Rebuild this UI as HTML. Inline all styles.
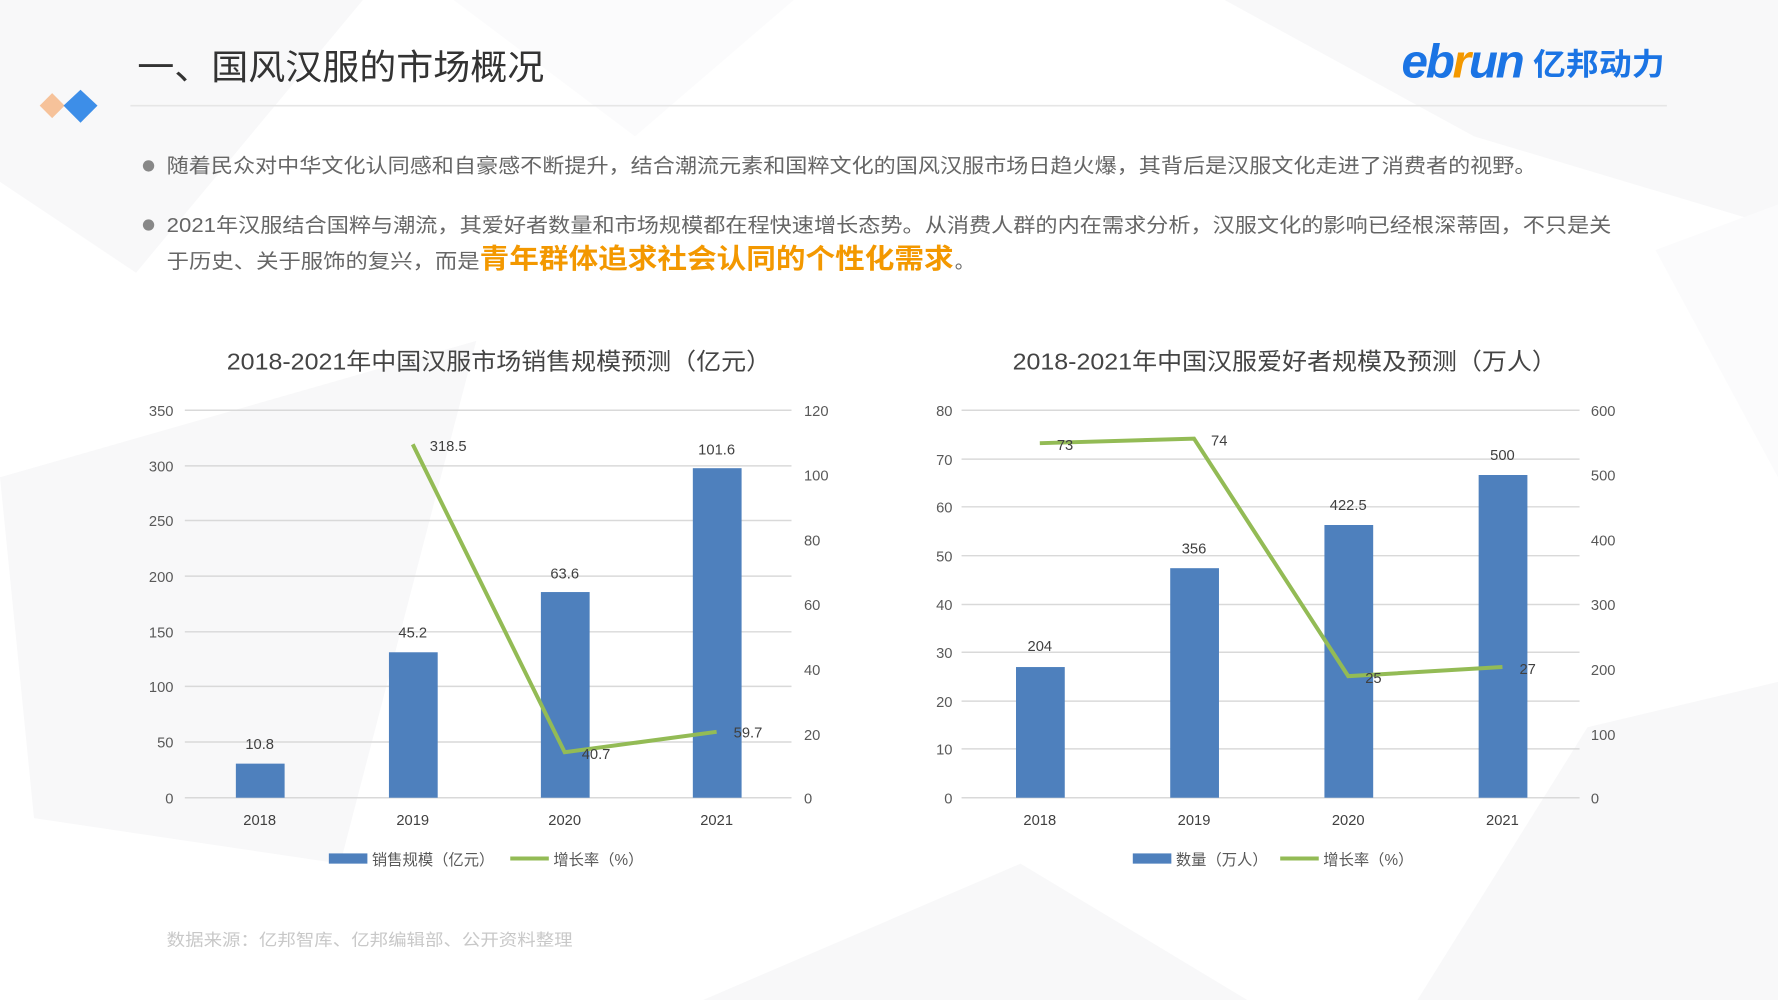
<!DOCTYPE html>
<html><head><meta charset="utf-8"><style>
html,body{margin:0;padding:0;background:#fff;}
svg{display:block;}
text{font-family:"Liberation Sans","Noto Sans CJK SC",sans-serif;}
</style></head><body>
<svg width="1778" height="1000" viewBox="0 0 1568 880" preserveAspectRatio="none" xmlns="http://www.w3.org/2000/svg">
<rect width="1568" height="880" fill="#fff"/>
<g fill="#f8f8f9">
<polygon points="0,0 320,0 120,240 0,160"/>
<polygon points="1080,0 1568,0 1568,200 1300,120"/>
<polygon points="0,420 420,300 300,760 30,720"/>
<polygon points="1400,640 1568,600 1568,880 1250,880"/>
<polygon points="620,880 900,760 1100,880"/>
</g>
<g fill="#fbfbfc">
<polygon points="400,0 700,0 560,120"/>
<polygon points="1460,220 1568,180 1568,420"/>
</g>
<!-- header -->
<text x="121" y="70" font-size="31" fill="#333" textLength="359" lengthAdjust="spacingAndGlyphs">一、国风汉服的市场概况</text>
<line x1="115" y1="93" x2="1470" y2="93" stroke="#e6e6e6" stroke-width="1.5"/>
<polygon points="46,82 57,93 46,104 35,93" fill="#f6c29a"/>
<polygon points="71,79 86,93 71,108 56,93" fill="#3d8ee8"/>
<text x="1236" y="68" font-size="42" font-weight="bold" font-style="italic" fill="#1b74e4" letter-spacing="-2">eb<tspan fill="#f39800">r</tspan>un</text>
<text x="1352" y="66" font-size="27" font-weight="bold" fill="#1b74e4" textLength="116" lengthAdjust="spacingAndGlyphs">亿邦动力</text>
<!-- bullets -->
<circle cx="131" cy="146" r="5" fill="#888"/>
<text x="147" y="152" font-size="17.5" fill="#666" textLength="1208" lengthAdjust="spacingAndGlyphs">随着民众对中华文化认同感和自豪感不断提升，结合潮流元素和国粹文化的国风汉服市场日趋火爆，其背后是汉服文化走进了消费者的视野。</text>
<circle cx="131" cy="198" r="5" fill="#888"/>
<text x="147" y="204" font-size="17.5" fill="#666" textLength="1274" lengthAdjust="spacingAndGlyphs">2021年汉服结合国粹与潮流，其爱好者数量和市场规模都在程快速增长态势。从消费人群的内在需求分析，汉服文化的影响已经根深蒂固，不只是关</text>
<text x="147" y="236" font-size="17.5" fill="#666" textLength="276" lengthAdjust="spacingAndGlyphs">于历史、关于服饰的复兴，而是</text>
<text x="423" y="236" font-size="24" font-weight="bold" fill="#f39800" textLength="418" lengthAdjust="spacingAndGlyphs">青年群体追求社会认同的个性化需求</text>
<text x="842" y="236" font-size="17.5" fill="#666">。</text>
<!-- Left chart -->
<text x="440" y="325" font-size="20.5" fill="#444" text-anchor="middle" textLength="480" lengthAdjust="spacingAndGlyphs">2018-2021年中国汉服市场销售规模预测（亿元）</text>
<g stroke="#d9d9d9" stroke-width="1.3">
<line x1="163" y1="361" x2="698" y2="361"/><line x1="163" y1="410" x2="698" y2="410"/>
<line x1="163" y1="458" x2="698" y2="458"/><line x1="163" y1="507" x2="698" y2="507"/>
<line x1="163" y1="556" x2="698" y2="556"/><line x1="163" y1="604" x2="698" y2="604"/>
<line x1="163" y1="653" x2="698" y2="653"/><line x1="163" y1="702" x2="698" y2="702"/>
</g>
<g font-size="13" fill="#595959" text-anchor="end">
<text x="153" y="366">350</text><text x="153" y="415">300</text><text x="153" y="463">250</text><text x="153" y="512">200</text>
<text x="153" y="561">150</text><text x="153" y="609">100</text><text x="153" y="658">50</text><text x="153" y="707">0</text>
</g>
<g font-size="13" fill="#595959">
<text x="709" y="366">120</text><text x="709" y="423">100</text><text x="709" y="480">80</text><text x="709" y="537">60</text>
<text x="709" y="594">40</text><text x="709" y="651">20</text><text x="709" y="707">0</text>
</g>
<g fill="#4e80bd">
<rect x="208" y="672" width="43" height="30"/><rect x="343" y="574" width="43" height="128"/>
<rect x="477" y="521" width="43" height="181"/><rect x="611" y="412" width="43" height="290"/>
</g>
<g font-size="13" fill="#404040" text-anchor="middle">
<text x="229" y="659">10.8</text><text x="364" y="561">45.2</text><text x="498" y="509">63.6</text><text x="632" y="400">101.6</text>
<text x="229" y="726">2018</text><text x="364" y="726">2019</text><text x="498" y="726">2020</text><text x="632" y="726">2021</text>
</g>
<polyline points="364,391 498,662 632,644" fill="none" stroke="#93bb55" stroke-width="3.5"/>
<g font-size="13" fill="#404040">
<text x="379" y="397">318.5</text><text x="513" y="668">40.7</text><text x="647" y="649">59.7</text>
</g>
<rect x="290" y="751" width="34" height="9" fill="#4e80bd"/>
<text x="328" y="761" font-size="13.5" fill="#595959">销售规模（亿元）</text>
<line x1="450" y1="755.5" x2="484" y2="755.5" stroke="#93bb55" stroke-width="3.5"/>
<text x="488" y="761" font-size="13.5" fill="#595959">增长率（%）</text>
<!-- Right chart -->
<text x="1133" y="325" font-size="20.5" fill="#444" text-anchor="middle" textLength="480" lengthAdjust="spacingAndGlyphs">2018-2021年中国汉服爱好者规模及预测（万人）</text>
<g stroke="#d9d9d9" stroke-width="1.3">
<line x1="848" y1="361" x2="1393" y2="361"/><line x1="848" y1="404" x2="1393" y2="404"/>
<line x1="848" y1="446" x2="1393" y2="446"/><line x1="848" y1="489" x2="1393" y2="489"/>
<line x1="848" y1="532" x2="1393" y2="532"/><line x1="848" y1="574" x2="1393" y2="574"/>
<line x1="848" y1="617" x2="1393" y2="617"/><line x1="848" y1="659" x2="1393" y2="659"/>
<line x1="848" y1="702" x2="1393" y2="702"/>
</g>
<g font-size="13" fill="#595959" text-anchor="end">
<text x="840" y="366">80</text><text x="840" y="409">70</text><text x="840" y="451">60</text><text x="840" y="494">50</text>
<text x="840" y="537">40</text><text x="840" y="579">30</text><text x="840" y="622">20</text><text x="840" y="664">10</text><text x="840" y="707">0</text>
</g>
<g font-size="13" fill="#595959">
<text x="1403" y="366">600</text><text x="1403" y="423">500</text><text x="1403" y="480">400</text><text x="1403" y="537">300</text>
<text x="1403" y="594">200</text><text x="1403" y="651">100</text><text x="1403" y="707">0</text>
</g>
<g fill="#4e80bd">
<rect x="896" y="587" width="43" height="115"/><rect x="1032" y="500" width="43" height="202"/>
<rect x="1168" y="462" width="43" height="240"/><rect x="1304" y="418" width="43" height="284"/>
</g>
<g font-size="13" fill="#404040" text-anchor="middle">
<text x="917" y="573">204</text><text x="1053" y="487">356</text><text x="1189" y="449">422.5</text><text x="1325" y="405">500</text>
<text x="917" y="726">2018</text><text x="1053" y="726">2019</text><text x="1189" y="726">2020</text><text x="1325" y="726">2021</text>
</g>
<polyline points="917,390 1053,386 1189,595 1325,587" fill="none" stroke="#93bb55" stroke-width="3.5"/>
<g font-size="13" fill="#404040">
<text x="932" y="396">73</text><text x="1068" y="392">74</text><text x="1204" y="601">25</text><text x="1340" y="593">27</text>
</g>
<rect x="999" y="751" width="34" height="9" fill="#4e80bd"/>
<text x="1037" y="761" font-size="13.5" fill="#595959">数量（万人）</text>
<line x1="1129" y1="755.5" x2="1163" y2="755.5" stroke="#93bb55" stroke-width="3.5"/>
<text x="1167" y="761" font-size="13.5" fill="#595959">增长率（%）</text>
<!-- footer -->
<text x="147" y="832" font-size="14.5" fill="#c8c8c8" textLength="358" lengthAdjust="spacingAndGlyphs">数据来源：亿邦智库、亿邦编辑部、公开资料整理</text>
</svg>
</body></html>
